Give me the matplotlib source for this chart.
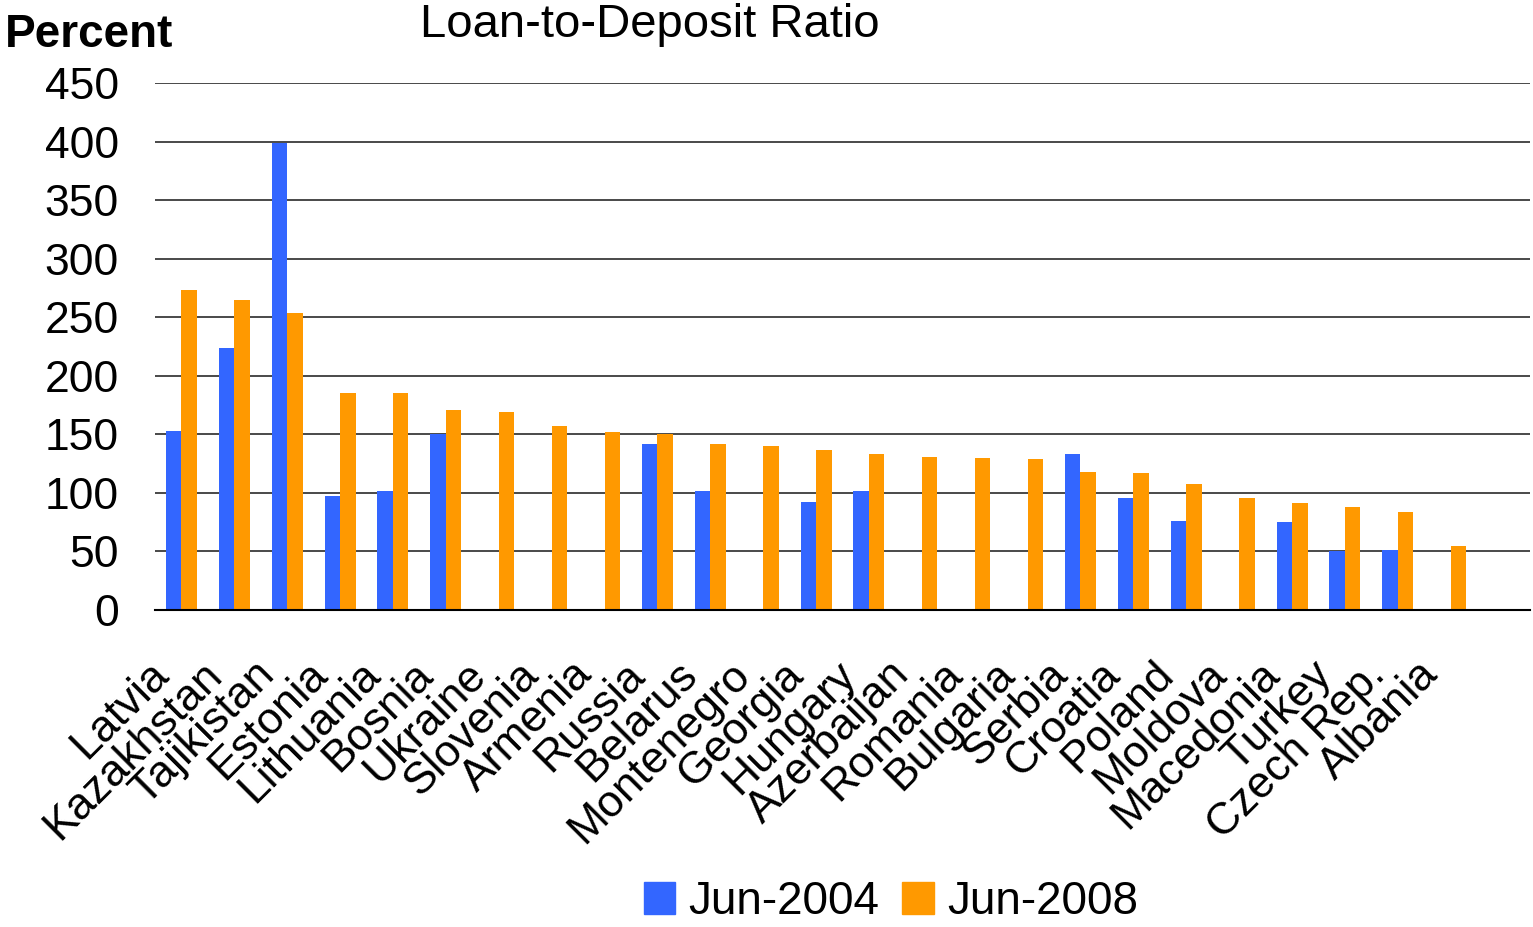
import numpy as np
import matplotlib
matplotlib.use("Agg")
import matplotlib.pyplot as plt
import matplotlib.transforms as mtransforms
from matplotlib.patches import Patch

plt.rcParams['font.family'] = ['Liberation Sans', 'DejaVu Sans']

countries = ["Latvia", "Kazakhstan", "Tajikistan", "Estonia", "Lithuania",
             "Bosnia", "Ukraine", "Slovenia", "Armenia", "Russia", "Belarus",
             "Montenegro", "Georgia", "Hungary", "Azerbaijan", "Romania",
             "Bulgaria", "Serbia", "Croatia", "Poland", "Moldova",
             "Macedonia", "Turkey", "Czech Rep.", "Albania"]
# NaN = no data for that year
jun_2004 = [153, 224, 399, 97, 102, 150, np.nan, np.nan, np.nan, 142, 102,
            np.nan, 92, 102, np.nan, np.nan, np.nan, 133, 96, 76, np.nan,
            75, 50, 51, np.nan]
jun_2008 = [273, 265, 254, 185, 185, 171, 169, 157, 152, 150, 142,
            140, 137, 133, 131, 130, 129, 118, 117, 108, 96,
            91, 88, 84, 55]
yticks = [0, 50, 100, 150, 200, 250, 300, 350, 400, 450]

blue = "#3366FF"
orange = "#FF9900"

fig = plt.figure(figsize=(15.33, 9.27), dpi=100)
ax = fig.add_axes([155 / 1533, 1 - 610 / 927, 1375 / 1533, 527 / 927])

x = np.arange(len(countries))
w = 0.293
ax.bar(x - w / 2, np.nan_to_num(jun_2004), w, color=blue, zorder=3)
ax.bar(x + w / 2, jun_2008, w, color=orange, zorder=3)

ax.set_xlim(-0.5, len(countries) + 0.5)
ax.set_ylim(0, 450)
ax.set_yticks(yticks)
ax.set_yticklabels([str(v) for v in yticks], fontsize=32)
ax.tick_params(axis='y', length=0, pad=26)
ax.yaxis.grid(True, color="#3a3a3a", lw=1.3, zorder=0)
for s in ["left", "right", "top"]:
    ax.spines[s].set_visible(False)
ax.spines["bottom"].set_color("black")
ax.spines["bottom"].set_linewidth(1.5)
ax.spines["bottom"].set_zorder(4)

ax.set_xticks(x)
ax.set_xticklabels(countries, fontsize=32, rotation=45, ha='right',
                   va='center', rotation_mode='anchor')
ax.tick_params(axis='x', length=0, pad=42)
shift = mtransforms.ScaledTranslation(-19 / 100, 0, fig.dpi_scale_trans)
for lbl in ax.get_xticklabels():
    lbl.set_transform(lbl.get_transform() + shift)

fig.text(650 / 1533, 1 - 25 / 927, "Loan-to-Deposit Ratio", fontsize=34,
         ha='center', va='center')
fig.text(5 / 1533, 1 - 35 / 927, "Percent", fontsize=33, fontweight='bold',
         ha='left', va='center')

handles = [Patch(color=blue, label="Jun-2004"),
           Patch(color=orange, label="Jun-2008")]
fig.legend(handles=handles, loc='center', bbox_to_anchor=(891 / 1533, 1 - 902 / 927),
           ncol=2, frameon=False, fontsize=33, handlelength=0.68, handleheight=0.68,
           handletextpad=0.3, columnspacing=0.5)

fig.savefig("out.png", dpi=100)
